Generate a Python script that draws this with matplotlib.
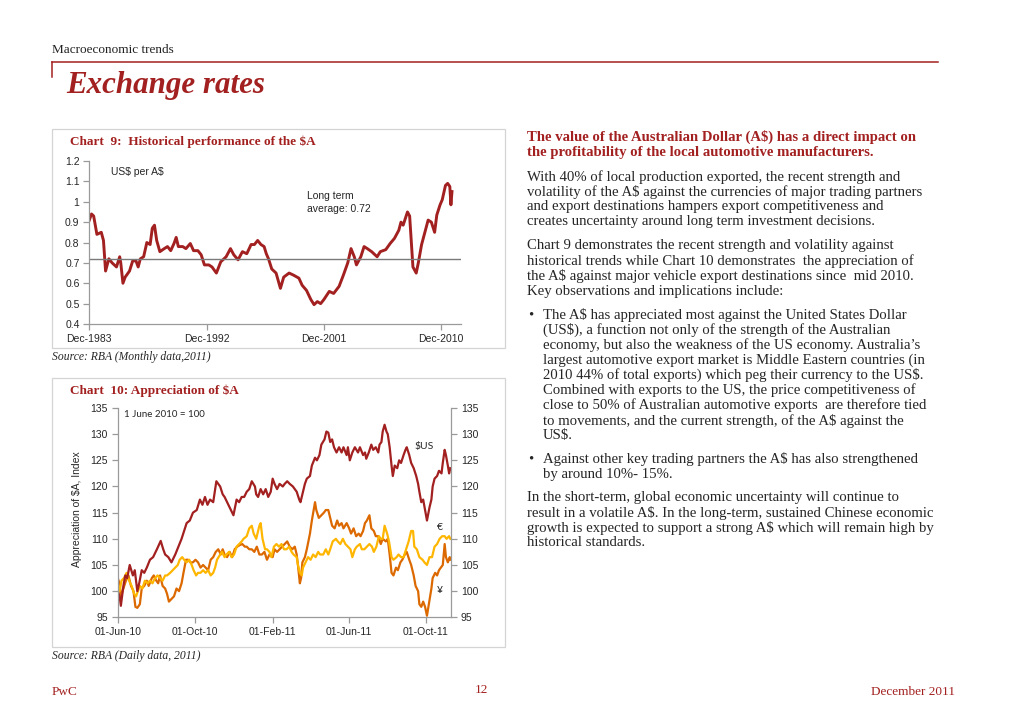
import matplotlib
matplotlib.use('Agg')
import matplotlib.pyplot as plt
import pandas as pd
from matplotlib.patches import Rectangle
from matplotlib.lines import Line2D

# ---- chart 9 data: US$ per A$ (monthly) ----
hist_month = ['1983-12', '1984-02', '1984-04', '1984-07', '1984-09', '1984-11', '1985-01', '1985-03', '1985-06', '1985-09',
              '1986-01', '1986-04', '1986-05', '1986-07', '1986-09', '1987-01', '1987-04', '1987-07', '1987-09', '1987-11',
              '1988-02', '1988-05', '1988-08', '1988-10', '1988-12', '1989-02', '1989-05', '1989-09', '1989-12', '1990-03',
              '1990-06', '1990-08', '1990-10', '1991-02', '1991-05', '1991-09', '1991-12', '1992-04', '1992-07', '1992-10',
              '1993-02', '1993-05', '1993-09', '1994-01', '1994-06', '1994-10', '1995-01', '1995-05', '1995-09', '1996-01',
              '1996-05', '1996-08', '1996-11', '1997-02', '1997-05', '1997-07', '1997-09', '1997-12', '1998-04', '1998-08',
              '1998-11', '1999-04', '1999-08', '2000-01', '2000-04', '2000-08', '2000-12', '2001-03', '2001-06', '2001-09',
              '2001-12', '2002-05', '2002-09', '2003-02', '2003-06', '2003-10', '2004-01', '2004-04', '2004-06', '2004-10',
              '2005-01', '2005-04', '2005-08', '2006-01', '2006-04', '2006-09', '2007-01', '2007-05', '2007-09', '2007-11',
              '2008-01', '2008-05', '2008-07', '2008-10', '2009-01', '2009-03', '2009-06', '2009-09', '2009-12', '2010-03',
              '2010-06', '2010-08', '2010-11', '2011-01', '2011-04', '2011-06', '2011-08', '2011-09', '2011-10']
hist_rate = [0.91, 0.94, 0.93, 0.84, 0.845, 0.85, 0.81, 0.66, 0.72, 0.70,
             0.68, 0.73, 0.70, 0.60, 0.63, 0.66, 0.71, 0.71, 0.68, 0.72,
             0.73, 0.80, 0.79, 0.87, 0.885, 0.81, 0.755, 0.77, 0.78, 0.76,
             0.795, 0.825, 0.78, 0.78, 0.77, 0.795, 0.76, 0.76, 0.74, 0.69,
             0.69, 0.68, 0.65, 0.705, 0.73, 0.77, 0.74, 0.715, 0.755, 0.745,
             0.79, 0.79, 0.81, 0.79, 0.78, 0.745, 0.72, 0.67, 0.65, 0.575,
             0.63, 0.65, 0.64, 0.625, 0.59, 0.565, 0.52, 0.495, 0.51, 0.50,
             0.52, 0.56, 0.55, 0.585, 0.64, 0.70, 0.77, 0.73, 0.69, 0.73,
             0.78, 0.77, 0.755, 0.73, 0.755, 0.765, 0.795, 0.82, 0.86, 0.90,
             0.885, 0.95, 0.93, 0.68, 0.65, 0.70, 0.79, 0.85, 0.91, 0.90,
             0.85, 0.935, 0.985, 1.01, 1.08, 1.09, 1.075, 0.985, 1.05]
long_term_avg = 0.72
hist_ticks = ['1983-12', '1992-12', '2001-12', '2010-12']
hist_ticklabels = ['Dec-1983', 'Dec-1992', 'Dec-2001', 'Dec-2010']

# ---- chart 10 data: index, 1 June 2010 = 100 (days since base date) ----
base_date = '2010-06-01'
usd_day = [0, 3, 5, 9, 12, 15, 19, 24, 27, 31, 34, 38, 42, 46, 51, 56, 62, 68, 72, 75,
           80, 85, 91, 96, 101, 109, 114, 119, 125, 130, 134, 138, 142, 146, 151, 156, 162, 166, 169, 173,
           177, 183, 188, 192, 196, 200, 204, 208, 212, 217, 219, 222, 226, 230, 234, 238, 242, 245, 248, 252,
           256, 261, 264, 268, 272, 277, 283, 287, 289, 292, 296, 299, 304, 307, 312, 315, 319, 322, 327, 330,
           333, 336, 339, 342, 346, 350, 354, 357, 362, 364, 367, 371, 375, 380, 383, 388, 391, 393, 397, 401,
           404, 408, 412, 414, 417, 419, 422, 425, 427, 430, 433, 435, 438, 442, 445, 448, 452, 455, 457, 461,
           464, 468, 472, 475, 477, 480, 483, 486, 489, 493, 496, 498, 501, 505, 508, 512, 514, 517, 519, 522,
           524, 526]
usd_idx = [100, 99, 97.2, 101, 103, 102.5, 105, 103, 104, 100, 101.5, 104, 103.5, 104.5, 106, 106.5, 108, 109.6, 108, 107,
           106.5, 105.5, 107, 108.5, 110, 113, 113.5, 115, 115.5, 117.5, 116.5, 118, 116.5, 117.5, 117, 121, 120, 118.5, 118, 117,
           116, 114.5, 117.5, 117, 118, 118, 119, 119.5, 121, 120, 118.5, 118, 119.5, 118.5, 119.5, 118, 119, 121.5, 120.5, 119.5,
           120.5, 120, 120.5, 121, 120.5, 120, 119, 117.5, 117, 118.5, 120.5, 121.5, 122, 124, 125.5, 125, 126, 128, 129, 130.5,
           130.3, 128.5, 129, 127.5, 126.5, 127.5, 126.5, 127.5, 126, 127.5, 125, 126.5, 127.5, 126.5, 127.5, 126, 126.5, 125.3, 126.5, 128,
           127, 127.5, 126.5, 128, 128.5, 130.5, 131.8, 130.5, 130, 127.5, 124, 122, 124, 123.5, 125, 124.5, 126, 127, 127.5, 126,
           124.5, 123.5, 122, 120.5, 119, 117, 117.5, 115.5, 113.5, 116, 117.5, 120, 121.5, 122, 123, 122.5, 124.5, 127, 126, 124,
           122.5, 123.5]
jpy_day = [0, 3, 5, 9, 13, 17, 21, 25, 28, 31, 35, 38, 42, 46, 49, 54, 57, 61, 64, 67,
           71, 75, 78, 81, 85, 89, 93, 97, 101, 104, 108, 111, 115, 119, 123, 127, 131, 135, 139, 143,
           147, 151, 155, 159, 163, 166, 169, 173, 177, 181, 185, 189, 193, 197, 201, 204, 208, 212, 216, 220,
           224, 228, 232, 236, 240, 245, 248, 252, 256, 260, 264, 268, 272, 276, 280, 283, 285, 288, 290, 292,
           296, 299, 304, 307, 312, 314, 318, 322, 326, 329, 333, 336, 339, 343, 347, 350, 354, 357, 362, 366,
           369, 373, 377, 381, 384, 388, 391, 394, 398, 401, 405, 408, 412, 416, 419, 424, 427, 430, 433, 436,
           440, 443, 447, 450, 454, 457, 461, 464, 468, 471, 475, 477, 480, 483, 486, 489, 492, 496, 498, 502,
           505, 508, 511, 514, 517, 519, 522, 525, 526]
jpy_idx = [102.5, 101.5, 99, 100.5, 102, 103, 101, 100, 97, 96.8, 97.5, 100.5, 101, 102, 101, 102.5, 103, 102, 101.5, 103,
           101, 100.5, 99.5, 98, 98.5, 99, 100.5, 100, 101.5, 103.5, 106, 106, 105.5, 105.5, 106, 105.5, 104.5, 105, 104.5, 104,
           106, 106.5, 107.5, 108, 107, 108, 107, 106.5, 107.5, 106.5, 108, 108.5, 108.8, 109, 108.5, 108.5, 108, 108, 107.5, 108.5,
           107, 107, 107.5, 106, 107, 106.5, 108, 107.5, 108, 108.5, 109, 109.5, 108.5, 108, 108.5, 107, 105, 101.5, 102.5, 105.5,
           106.5, 108, 111, 113.5, 117, 115.5, 114, 114.5, 115, 115.5, 115.5, 114, 112.5, 112, 113.5, 112.5, 113, 112, 113, 112,
           111, 112, 110.5, 111, 110.5, 111.5, 113, 113.5, 114.5, 112, 111.5, 110.5, 110.5, 109, 110, 109.5, 110, 107, 103.5, 103,
           104.5, 104, 105.5, 106, 107, 107.5, 106, 105, 103, 101, 100, 97.5, 97, 98, 97, 95.3, 97.5, 100.5, 102.5, 103.5,
           103, 104, 104.5, 105, 109, 106.5, 105.5, 106.5, 106]
eur_day = [0, 3, 6, 10, 14, 18, 22, 26, 29, 32, 35, 39, 43, 47, 51, 55, 59, 63, 67, 71,
           75, 78, 83, 87, 91, 95, 98, 102, 105, 109, 113, 117, 120, 124, 127, 131, 135, 139, 143, 147,
           151, 154, 157, 162, 165, 169, 172, 176, 180, 184, 188, 192, 196, 199, 204, 208, 212, 215, 219, 224,
           226, 229, 233, 236, 240, 243, 247, 251, 255, 259, 263, 267, 271, 275, 278, 283, 285, 288, 291, 293,
           297, 301, 305, 309, 313, 317, 320, 325, 329, 333, 336, 340, 345, 348, 352, 356, 360, 364, 368, 371,
           375, 378, 383, 386, 390, 394, 398, 402, 405, 409, 413, 416, 419, 422, 426, 429, 433, 436, 441, 444,
           448, 452, 456, 460, 464, 467, 469, 473, 477, 482, 485, 489, 493, 497, 501, 505, 509, 513, 517, 520,
           524, 526]
eur_idx = [101.5, 100, 102, 102.5, 103.5, 102, 101, 99.5, 99, 100, 101, 100.5, 102, 101.5, 102, 101.5, 102.5, 103, 102.5, 102,
           103, 103, 103.5, 104, 104.5, 105, 106, 106.5, 106, 105.5, 106, 105, 104, 103, 103.5, 103.5, 104, 103.5, 104, 103,
           103.5, 104.5, 106, 107, 107.5, 106.5, 107, 107.5, 106.5, 107, 108.5, 109, 109.5, 110, 110.5, 112, 112.5, 111, 110, 112.5,
           113, 110, 108, 108, 107.5, 106.5, 108.5, 109, 108.5, 109, 108, 108, 108.5, 107.5, 107, 106.5, 105, 103.5, 103, 104.5,
           105.5, 106.5, 106, 107, 106.5, 107.5, 107, 107, 108, 107, 108, 109.5, 110, 109.5, 109, 110, 109, 108.5, 108, 106.5,
           108, 108.5, 109, 108, 108, 108.5, 109, 108.5, 107.5, 108.5, 110.5, 110, 110, 112.5, 111, 109.5, 106.5, 106, 106.5, 107,
           106.5, 106.5, 108, 109.5, 111.5, 111.5, 108.5, 108, 106.5, 106, 105.5, 105, 106.5, 106.5, 108.5, 109, 110, 110.5, 110.5, 110,
           110.5, 110]
idx_ticks = ['2010-06-01', '2010-10-01', '2011-02-01', '2011-06-01', '2011-10-01']
idx_ticklabels = ['01-Jun-10', '01-Oct-10', '01-Feb-11', '01-Jun-11', '01-Oct-11']

# ---- page text ----
heading_lines = ['The value of the Australian Dollar (A$) has a direct impact on',
                 'the profitability of the local automotive manufacturers.']
para1_lines = ['With 40% of local production exported, the recent strength and',
               'volatility of the A$ against the currencies of major trading partners',
               'and export destinations hampers export competitiveness and',
               'creates uncertainty around long term investment decisions.']
para2_lines = ['Chart 9 demonstrates the recent strength and volatility against',
               'historical trends while Chart 10 demonstrates  the appreciation of',
               'the A$ against major vehicle export destinations since  mid 2010.',
               'Key observations and implications include:']
bullet1_lines = ['The A$ has appreciated most against the United States Dollar',
                 '(US$), a function not only of the strength of the Australian',
                 'economy, but also the weakness of the US economy. Australia\u2019s',
                 'largest automotive export market is Middle Eastern countries (in',
                 '2010 44% of total exports) which peg their currency to the US$.',
                 'Combined with exports to the US, the price competitiveness of',
                 'close to 50% of Australian automotive exports  are therefore tied',
                 'to movements, and the current strength, of the A$ against the',
                 'US$.']
bullet2_lines = ['Against other key trading partners the A$ has also strengthened',
                 'by around 10%- 15%.']
para3_lines = ['In the short-term, global economic uncertainty will continue to',
               'result in a volatile A$. In the long-term, sustained Chinese economic',
               'growth is expected to support a strong A$ which will remain high by',
               'historical standards.']

RED = '#a32020'
ORANGE = '#dc6900'
AMBER = '#ffb600'
AXIS = '#9a9a9a'
TXT = '#262626'
SERIF = 'Liberation Serif'
SANS = 'Liberation Sans'

plt.rcParams['font.family'] = [SANS, 'DejaVu Sans']
plt.rcParams['axes.unicode_minus'] = False
plt.rcParams['text.parse_math'] = False

W, H = 1024, 718
fig = plt.figure(figsize=(W / 100, H / 100), dpi=100)


def fx(px):
    return px / W


def fy(py):
    return 1 - py / H


def ptext(x, y, s, **kw):
    kw.setdefault('family', SERIF)
    kw.setdefault('va', 'center')
    kw.setdefault('color', TXT)
    fig.text(fx(x), fy(y), s, **kw)


# header
ptext(52, 50, 'Macroeconomic trends', fontsize=9.5, color='#222222')
fig.add_artist(Line2D([fx(52), fx(938)], [fy(62), fy(62)], color=RED, lw=1.1))
fig.add_artist(Line2D([fx(52), fx(52)], [fy(62), fy(77)], color=RED, lw=1.1))
ptext(66, 86, 'Exchange rates', fontsize=22.3, fontweight='bold', style='italic', color=RED)

# chart boxes
for top, bot in [(129, 348), (378, 647)]:
    fig.add_artist(Rectangle((fx(52), fy(bot)), fx(505) - fx(52), fy(top) - fy(bot),
                             transform=fig.transFigure, fill=False, edgecolor='#d4d4d4', lw=0.9))

ptext(70, 142, 'Chart  9:  Historical performance of the $A', fontsize=9.5, fontweight='bold', color=RED)
ptext(52, 357, 'Source: RBA (Monthly data,2011)', fontsize=8.4, style='italic')
ptext(70, 391, 'Chart  10: Appreciation of $A', fontsize=9.5, fontweight='bold', color=RED)
ptext(52, 656, 'Source: RBA (Daily data, 2011)', fontsize=8.4, style='italic')

# ---- chart 9 ----
ax1 = fig.add_axes([fx(89.3), fy(324), fx(460.7) - fx(89.3), fy(161) - fy(324)])
ax1.plot(pd.to_datetime(hist_month), hist_rate, color=RED, lw=2.1, solid_joinstyle='round')
ax1.axhline(long_term_avg, color='#7a7a7a', lw=1.0)
ax1.set_ylim(0.4, 1.2)
ax1.set_xlim(pd.Timestamp('1983-12-01'), pd.Timestamp('2012-06-01'))
yt = [0.4, 0.5, 0.6, 0.7, 0.8, 0.9, 1.0, 1.1, 1.2]
ax1.set_yticks(yt)
ax1.set_yticklabels(['%g' % v for v in yt])
ax1.set_xticks(pd.to_datetime(hist_ticks))
ax1.set_xticklabels(hist_ticklabels)
for s in ['top', 'right']:
    ax1.spines[s].set_visible(False)
for s in ['left', 'bottom']:
    ax1.spines[s].set_color(AXIS)
    ax1.spines[s].set_linewidth(0.9)
ax1.tick_params(axis='both', labelsize=7.5, colors=AXIS, labelcolor=TXT, length=4, width=0.9, pad=3)
ax1.text(0.058, 0.933, 'US$ per A$', transform=ax1.transAxes, fontsize=7.5, color=TXT, va='center')
ax1.text(0.587, 0.745, 'Long term\naverage: 0.72', transform=ax1.transAxes, fontsize=7.5,
         color=TXT, va='center', linespacing=1.35)

# ---- chart 10 ----
base = pd.Timestamp(base_date)
ax2 = fig.add_axes([fx(117.7), fy(617.3), fx(451) - fx(117.7), fy(408) - fy(617.3)])
ax2.plot(base + pd.to_timedelta(jpy_day, unit='D'), jpy_idx, color=ORANGE, lw=1.6)
ax2.plot(base + pd.to_timedelta(eur_day, unit='D'), eur_idx, color=AMBER, lw=1.6)
ax2.plot(base + pd.to_timedelta(usd_day, unit='D'), usd_idx, color=RED, lw=1.6)
ax2.set_ylim(95, 135)
ax2.set_xlim(base, base + pd.Timedelta(days=527))
yt2 = list(range(95, 136, 5))
ax2.set_yticks(yt2)
ax2.set_xticks(pd.to_datetime(idx_ticks))
ax2.set_xticklabels(idx_ticklabels)
ax2r = ax2.twinx()
ax2r.set_ylim(95, 135)
ax2r.set_yticks(yt2)
for a in (ax2, ax2r):
    a.spines['top'].set_visible(False)
    for s in ['left', 'right', 'bottom']:
        a.spines[s].set_color(AXIS)
        a.spines[s].set_linewidth(0.9)
    a.tick_params(axis='both', labelsize=7.5, colors=AXIS, labelcolor=TXT, length=4, width=0.9, pad=3)
ax2.spines['right'].set_visible(False)
ax2r.spines['left'].set_visible(False)
ax2r.spines['bottom'].set_visible(False)
fig.text(fx(77), fy(509), 'Appreciation of $A, Index', rotation=90, fontsize=7.5,
         color=TXT, ha='center', va='center')
ax2.text(base + pd.Timedelta(days=10), 133.7, '1 June 2010 = 100', fontsize=7, family='Lato',
         color=TXT, va='center')
ax2.text(base + pd.Timedelta(days=485), 127.6, '$US', fontsize=7.5, family='Lato', color=TXT,
         ha='center', va='center')
ax2.text(base + pd.Timedelta(days=509), 112.1, '\u20ac', fontsize=7.5, family='Lato', color=TXT,
         ha='center', va='center')
ax2.text(base + pd.Timedelta(days=509), 100.2, '\u00a5', fontsize=7.5, family='Lato', color=TXT,
         ha='center', va='center')

# ---- right-hand commentary ----
step = 15.1
body = 10.6
for i, line in enumerate(heading_lines):
    ptext(527, 137.3 + i * step, line, fontsize=body, fontweight='bold', color=RED)
for y0, lines in [(176.7, para1_lines), (245.7, para2_lines), (497.7, para3_lines)]:
    for i, line in enumerate(lines):
        ptext(527, y0 + i * step, line, fontsize=body)
for y0, lines in [(315, bullet1_lines), (459.3, bullet2_lines)]:
    ptext(531, y0, '\u2022', fontsize=body, ha='center')
    for i, line in enumerate(lines):
        ptext(543, y0 + i * step, line, fontsize=body)

# footer
ptext(52, 692, 'PwC', fontsize=9.5, color=RED)
ptext(481, 690, '12', fontsize=9.5, color=RED, ha='center')
ptext(955, 692, 'December 2011', fontsize=9.5, color=RED, ha='right')

fig.savefig('out.png', dpi=100)
